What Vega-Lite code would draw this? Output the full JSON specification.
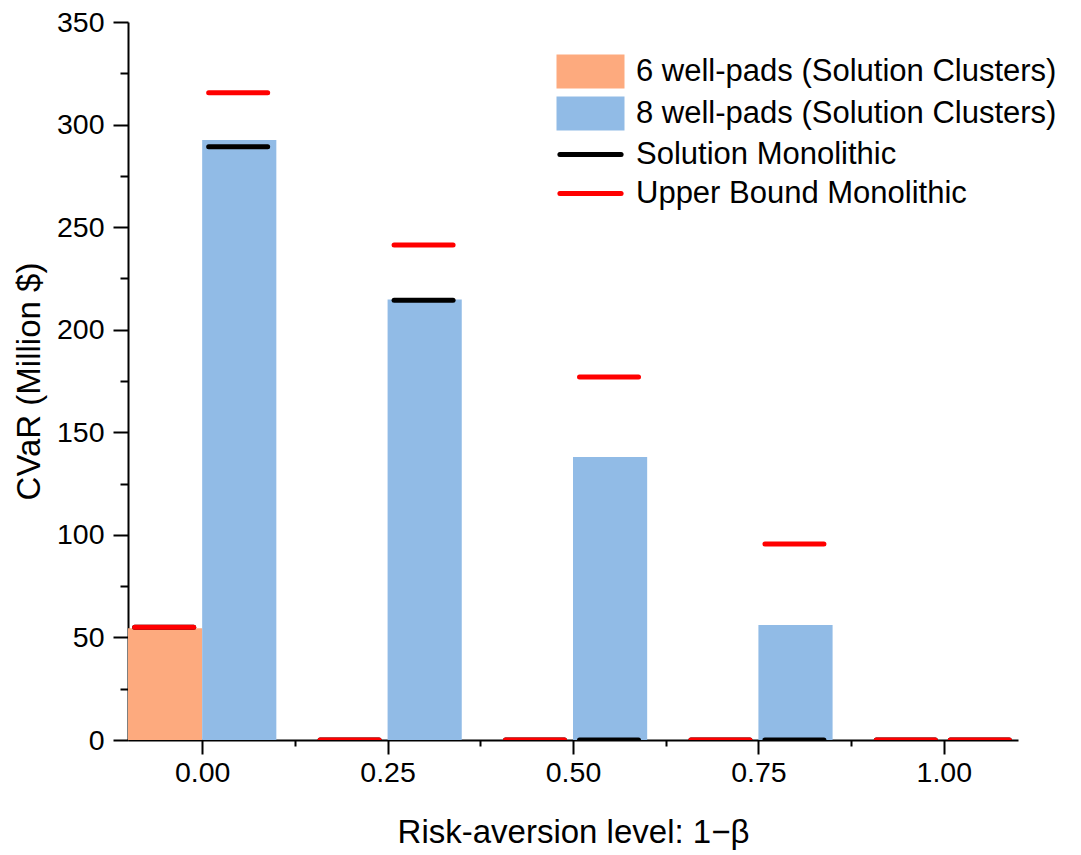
{
  "$schema": "https://vega.github.io/schema/vega-lite/v6.json",
  "width": 890,
  "height": 718,
  "autosize": {"type": "none"},
  "padding": {"left": 128, "top": 22, "right": 63, "bottom": 115},
  "background": "white",
  "config": {
    "view": {"stroke": null},
    "font": "Liberation Sans",
    "axis": {
      "grid": false,
      "domainColor": "black",
      "domainWidth": 2,
      "tickColor": "black",
      "tickWidth": 2,
      "labelFont": "Liberation Sans",
      "labelFontSize": 28.5,
      "labelColor": "black",
      "titleFont": "Liberation Sans",
      "titleFontSize": 33,
      "titleFontWeight": "normal",
      "titleColor": "black",
      "labelOverlap": false,
      "zindex": 1
    }
  },
  "data": {
    "values": [
      {"level": 0, "group": "6 well-pads (Solution Clusters)", "cvar": 54.5, "solution": 55, "upper": 55},
      {"level": 0.25, "group": "6 well-pads (Solution Clusters)", "cvar": 0, "solution": 0, "upper": 0},
      {"level": 0.5, "group": "6 well-pads (Solution Clusters)", "cvar": 0, "solution": 0, "upper": 0},
      {"level": 0.75, "group": "6 well-pads (Solution Clusters)", "cvar": 0, "solution": 0, "upper": 0},
      {"level": 1.0, "group": "6 well-pads (Solution Clusters)", "cvar": 0, "solution": 0, "upper": 0},
      {"level": 0, "group": "8 well-pads (Solution Clusters)", "cvar": 292.5, "solution": 289.2, "upper": 315.5},
      {"level": 0.25, "group": "8 well-pads (Solution Clusters)", "cvar": 214.7, "solution": 214.4, "upper": 241.3},
      {"level": 0.5, "group": "8 well-pads (Solution Clusters)", "cvar": 138, "solution": 0, "upper": 177},
      {"level": 0.75, "group": "8 well-pads (Solution Clusters)", "cvar": 56, "solution": 0, "upper": 95.5},
      {"level": 1.0, "group": "8 well-pads (Solution Clusters)", "cvar": 0, "solution": 0, "upper": 0}
    ]
  },
  "encoding": {
    "x": {
      "field": "level",
      "type": "quantitative",
      "scale": {"domain": [-0.1, 1.1], "nice": false, "zero": false},
      "axis": {
        "title": "Risk-aversion level: 1−β",
        "values": [0, 0.125, 0.25, 0.375, 0.5, 0.625, 0.75, 0.875, 1.0],
        "format": ".2f",
        "labelExpr": "datum.value % 0.25 == 0 ? datum.label : ''",
        "tickSize": {"condition": {"test": "datum.value % 0.25 == 0", "value": 14}, "value": 6},
        "labelPadding": 4,
        "titlePadding": 30
      }
    },
    "y": {
      "type": "quantitative",
      "scale": {"domain": [0, 350], "nice": false},
      "axis": {
        "title": "CVaR (Million $)",
        "values": [0, 25, 50, 75, 100, 125, 150, 175, 200, 225, 250, 275, 300, 325, 350],
        "labelExpr": "datum.value % 50 == 0 ? datum.label : ''",
        "tickSize": {"condition": {"test": "datum.value % 50 == 0", "value": 15}, "value": 8},
        "labelPadding": 9,
        "titlePadding": 10
      }
    }
  },
  "layer": [
    {
      "transform": [{"filter": "datum.group == '6 well-pads (Solution Clusters)'"}],
      "mark": {"type": "bar", "xOffset": -74.17, "x2Offset": 0},
      "encoding": {
        "x2": {"field": "level"},
        "y": {"field": "cvar"},
        "y2": {"datum": 0},
        "color": {
          "field": "group",
          "type": "nominal",
          "scale": {
            "domain": ["6 well-pads (Solution Clusters)", "8 well-pads (Solution Clusters)", "Solution Monolithic", "Upper Bound Monolithic"],
            "range": ["#FDAA7E", "#91BBE6", "#000000", "#FF0000"]
          },
          "legend": {
            "title": null,
            "orient": "none",
            "legendX": 447,
            "legendY": 34,
            "labelFont": "Liberation Sans",
            "labelFontSize": 31,
            "labelColor": "black",
            "labelOffset": 30,
            "rowPadding": 7,
            "symbolSize": 1156,
            "labelLimit": 600,
            "encode": {
              "symbols": {
                "update": {
                  "shape": {"signal": "(datum.value == 'Solution Monolithic' || datum.value == 'Upper Bound Monolithic') ? 'M-1.8,0H1.8' : 'M-2,-1H2V1H-2Z'"},
                  "fill": {"signal": "(datum.value == 'Solution Monolithic' || datum.value == 'Upper Bound Monolithic') ? 'transparent' : scale('color', datum.value)"},
                  "stroke": {"signal": "scale('color', datum.value)"},
                  "strokeWidth": {"signal": "(datum.value == 'Solution Monolithic' || datum.value == 'Upper Bound Monolithic') ? 5 : 0"},
                  "strokeCap": {"value": "round"},
                  "size": {"value": 1156},
                  "opacity": {"value": 1}
                }
              }
            }
          }
        }
      }
    },
    {
      "transform": [{"filter": "datum.group == '8 well-pads (Solution Clusters)'"}],
      "mark": {"type": "bar", "xOffset": 0, "x2Offset": 74.17},
      "encoding": {
        "x2": {"field": "level"},
        "y": {"field": "cvar"},
        "y2": {"datum": 0},
        "color": {"field": "group", "type": "nominal"}
      }
    },
    {
      "transform": [{"filter": "datum.group == '6 well-pads (Solution Clusters)'"}],
      "mark": {"type": "rule", "strokeWidth": 5, "strokeCap": "round", "clip": true, "xOffset": -67.5, "x2Offset": -8.5},
      "encoding": {
        "x2": {"field": "level"},
        "y": {"field": "solution"},
        "color": {"datum": "Solution Monolithic"}
      }
    },
    {
      "transform": [{"filter": "datum.group == '8 well-pads (Solution Clusters)'"}],
      "mark": {"type": "rule", "strokeWidth": 5, "strokeCap": "round", "clip": true, "xOffset": 6.5, "x2Offset": 65.5},
      "encoding": {
        "x2": {"field": "level"},
        "y": {"field": "solution"},
        "color": {"datum": "Solution Monolithic"}
      }
    },
    {
      "transform": [{"filter": "datum.group == '6 well-pads (Solution Clusters)'"}],
      "mark": {"type": "rule", "strokeWidth": 5, "strokeCap": "round", "clip": true, "xOffset": -67.5, "x2Offset": -8.5},
      "encoding": {
        "x2": {"field": "level"},
        "y": {"field": "upper"},
        "color": {"datum": "Upper Bound Monolithic"}
      }
    },
    {
      "transform": [{"filter": "datum.group == '8 well-pads (Solution Clusters)'"}],
      "mark": {"type": "rule", "strokeWidth": 5, "strokeCap": "round", "clip": true, "xOffset": 6.5, "x2Offset": 65.5},
      "encoding": {
        "x2": {"field": "level"},
        "y": {"field": "upper"},
        "color": {"datum": "Upper Bound Monolithic"}
      }
    }
  ]
}
